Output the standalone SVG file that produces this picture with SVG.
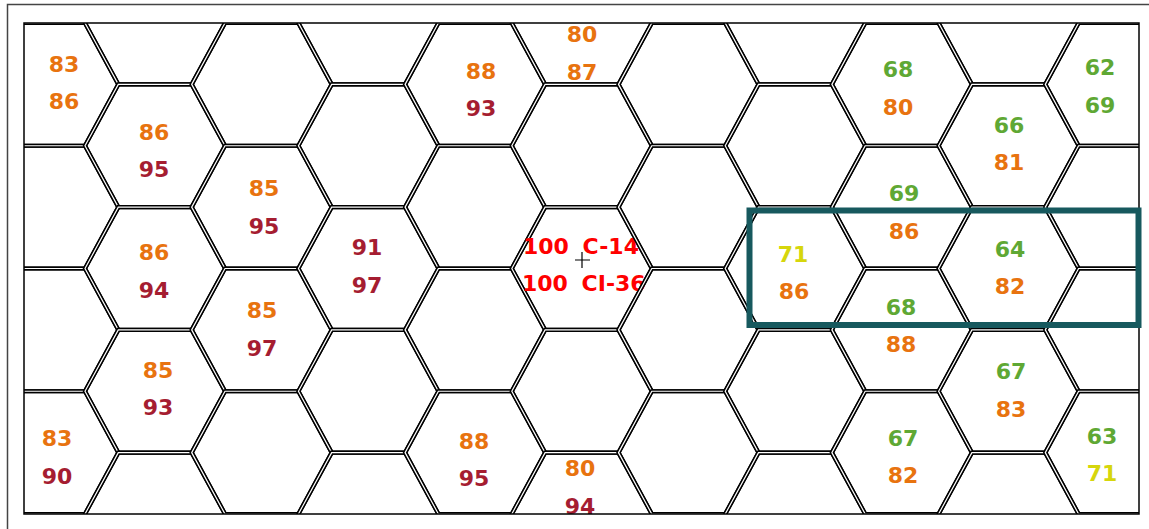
<svg xmlns="http://www.w3.org/2000/svg" width="1149" height="529" viewBox="0 0 1149 529">
<style>
.o{fill:none;stroke:#000;stroke-width:4.2;stroke-linejoin:miter}
.i{fill:none;stroke:#fff;stroke-width:1.2}
text{font-family:"DejaVu Sans",Verdana,sans-serif;font-weight:bold;font-size:22px;text-anchor:middle}
.or{fill:#e8730f}.dr{fill:#a51d31}.gr{fill:#5fa834}.ye{fill:#d6d60c}
.rd{fill:#ff0000;text-anchor:start;word-spacing:6px}
</style>
<defs>
<path id="hp" d="M-70,0L-36.7,-61.375H36.7L70,0L36.7,61.375H-36.7Z"/>
<g id="hx"><use href="#hp" class="o"/><use href="#hp" class="i"/></g>
<clipPath id="cl"><rect x="24" y="23" width="1115" height="491"/></clipPath>
</defs>
<rect width="1149" height="529" fill="#fff"/>
<g id="grid" clip-path="url(#cl)">
<g id="c0r1"><use href="#hx" x="48.3" y="84.375"/><text class="or" x="64" y="72">83</text><text class="or" x="64" y="109">86</text></g>
<g id="c0r3"><use href="#hx" x="48.3" y="207.125"/></g>
<g id="c0r5"><use href="#hx" x="48.3" y="329.875"/></g>
<g id="c0r7"><use href="#hx" x="48.3" y="452.625"/><text class="or" x="57" y="446">83</text><text class="dr" x="57" y="484">90</text></g>
<g id="c1r0"><use href="#hx" x="155" y="23"/></g>
<g id="c1r2"><use href="#hx" x="155" y="145.75"/><text class="or" x="154" y="140">86</text><text class="dr" x="154" y="177">95</text></g>
<g id="c1r4"><use href="#hx" x="155" y="268.5"/><text class="or" x="154" y="260">86</text><text class="dr" x="154" y="298">94</text></g>
<g id="c1r6"><use href="#hx" x="155" y="391.25"/><text class="or" x="158" y="378">85</text><text class="dr" x="158" y="415">93</text></g>
<g id="c1r8"><use href="#hx" x="155" y="514"/></g>
<g id="c2r1"><use href="#hx" x="261.7" y="84.375"/></g>
<g id="c2r3"><use href="#hx" x="261.7" y="207.125"/><text class="or" x="264" y="196">85</text><text class="dr" x="264" y="234">95</text></g>
<g id="c2r5"><use href="#hx" x="261.7" y="329.875"/><text class="or" x="262" y="318">85</text><text class="dr" x="262" y="356">97</text></g>
<g id="c2r7"><use href="#hx" x="261.7" y="452.625"/></g>
<g id="c3r0"><use href="#hx" x="368.4" y="23"/></g>
<g id="c3r2"><use href="#hx" x="368.4" y="145.75"/></g>
<g id="c3r4"><use href="#hx" x="368.4" y="268.5"/><text class="dr" x="367" y="255">91</text><text class="dr" x="367" y="293">97</text></g>
<g id="c3r6"><use href="#hx" x="368.4" y="391.25"/></g>
<g id="c3r8"><use href="#hx" x="368.4" y="514"/></g>
<g id="c4r1"><use href="#hx" x="475.1" y="84.375"/><text class="or" x="481" y="79">88</text><text class="dr" x="481" y="116">93</text></g>
<g id="c4r3"><use href="#hx" x="475.1" y="207.125"/></g>
<g id="c4r5"><use href="#hx" x="475.1" y="329.875"/></g>
<g id="c4r7"><use href="#hx" x="475.1" y="452.625"/><text class="or" x="474" y="449">88</text><text class="dr" x="474" y="486">95</text></g>
<g id="c5r0"><use href="#hx" x="581.8" y="23"/><text class="or" x="582" y="42">80</text><text class="or" x="582" y="80">87</text></g>
<g id="c5r2"><use href="#hx" x="581.8" y="145.75"/></g>
<g id="c5r4"><use href="#hx" x="581.8" y="268.5"/><text class="rd" x="523" y="254">100 C-14</text><text class="rd" x="522" y="291">100 CI-36</text><path d="M575,260H590M582,252V268" stroke="#000" stroke-width="1.2" fill="none"/></g>
<g id="c5r6"><use href="#hx" x="581.8" y="391.25"/></g>
<g id="c5r8"><use href="#hx" x="581.8" y="514"/><text class="or" x="580" y="476">80</text><text class="dr" x="580" y="514">94</text></g>
<g id="c6r1"><use href="#hx" x="688.5" y="84.375"/></g>
<g id="c6r3"><use href="#hx" x="688.5" y="207.125"/></g>
<g id="c6r5"><use href="#hx" x="688.5" y="329.875"/></g>
<g id="c6r7"><use href="#hx" x="688.5" y="452.625"/></g>
<g id="c7r0"><use href="#hx" x="795.2" y="23"/></g>
<g id="c7r2"><use href="#hx" x="795.2" y="145.75"/></g>
<g id="c7r4"><use href="#hx" x="795.2" y="268.5"/><text class="ye" x="793" y="262">71</text><text class="or" x="794" y="299">86</text></g>
<g id="c7r6"><use href="#hx" x="795.2" y="391.25"/></g>
<g id="c7r8"><use href="#hx" x="795.2" y="514"/></g>
<g id="c8r1"><use href="#hx" x="901.9" y="84.375"/><text class="gr" x="898" y="77">68</text><text class="or" x="898" y="115">80</text></g>
<g id="c8r3"><use href="#hx" x="901.9" y="207.125"/><text class="gr" x="904" y="201">69</text><text class="or" x="904" y="239">86</text></g>
<g id="c8r5"><use href="#hx" x="901.9" y="329.875"/><text class="gr" x="901" y="315">68</text><text class="or" x="901" y="352">88</text></g>
<g id="c8r7"><use href="#hx" x="901.9" y="452.625"/><text class="gr" x="903" y="446">67</text><text class="or" x="903" y="483">82</text></g>
<g id="c9r0"><use href="#hx" x="1008.6" y="23"/></g>
<g id="c9r2"><use href="#hx" x="1008.6" y="145.75"/><text class="gr" x="1009" y="133">66</text><text class="or" x="1009" y="170">81</text></g>
<g id="c9r4"><use href="#hx" x="1008.6" y="268.5"/><text class="gr" x="1010" y="257">64</text><text class="or" x="1010" y="294">82</text></g>
<g id="c9r6"><use href="#hx" x="1008.6" y="391.25"/><text class="gr" x="1011" y="379">67</text><text class="or" x="1011" y="417">83</text></g>
<g id="c9r8"><use href="#hx" x="1008.6" y="514"/></g>
<g id="c10r1"><use href="#hx" x="1115.3" y="84.375"/><text class="gr" x="1100" y="75">62</text><text class="gr" x="1100" y="113">69</text></g>
<g id="c10r3"><use href="#hx" x="1115.3" y="207.125"/></g>
<g id="c10r5"><use href="#hx" x="1115.3" y="329.875"/></g>
<g id="c10r7"><use href="#hx" x="1115.3" y="452.625"/><text class="gr" x="1102" y="444">63</text><text class="ye" x="1102" y="481">71</text></g>
</g>
<g id="frame" fill="none">
<rect x="24" y="23" width="1115" height="491" stroke="#000" stroke-width="1.5"/>
<path d="M7.5,529V4.5H1149" stroke="#444" stroke-width="1.5"/>
</g>
<g id="highlight">
<rect x="749.5" y="210.5" width="389" height="114.5" fill="none" stroke="#17595e" stroke-width="6"/>
</g>
</svg>
